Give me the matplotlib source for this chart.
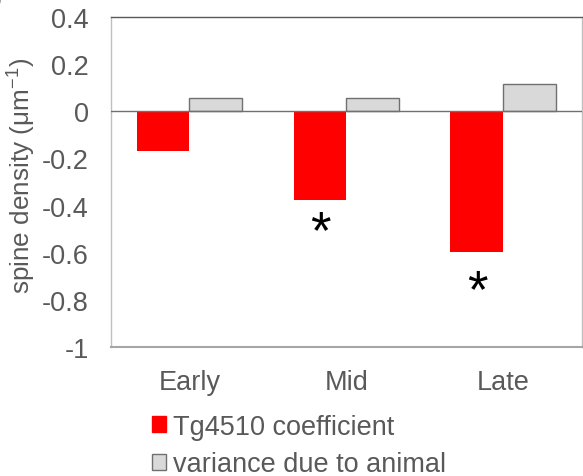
import numpy as np
import matplotlib
matplotlib.use('Agg')
import matplotlib.pyplot as plt
from matplotlib.patches import Patch

# Data.
stages = ['Early', 'Mid', 'Late']
tg4510_coef = [-0.168, -0.376, -0.596]
animal_variance = [0.055, 0.055, 0.115]
significant = [False, True, True]
star_y = [None, -0.516, -0.767]
y_ticks = [0.4, 0.2, 0, -0.2, -0.4, -0.6, -0.8, -1]
y_tick_labels = ['0.4', '0.2', '0', '-0.2', '-0.4', '-0.6', '-0.8', '-1']

plt.rcParams['font.family'] = ['Liberation Sans', 'DejaVu Sans']
plt.rcParams['mathtext.fontset'] = 'custom'
plt.rcParams['mathtext.rm'] = 'Liberation Sans'
plt.rcParams['mathtext.it'] = 'Liberation Sans:italic'
plt.rcParams['axes.unicode_minus'] = False

text_grey = '#595959'
red = '#ff0000'
light_grey = '#d9d9d9'
font_size = 19.5

fig = plt.figure(figsize=(5.83, 4.77), dpi=100)
ax = fig.add_axes([0.1904, 0.2704, 0.8076, 0.6919])

x = np.arange(len(stages))
width = 0.337
ax.bar(x - width / 2, tg4510_coef, width, color=red, zorder=2,
       label='Tg4510 coefficient')
ax.bar(x + width / 2, animal_variance, width, color=light_grey,
       edgecolor='#707070', linewidth=1.0, zorder=2,
       label='variance due to animal')
ax.axhline(0, color='#707070', linewidth=1.0, zorder=3)

# Significance stars below the red bars.
for xi, sig, sy in zip(x, significant, star_y):
    if sig:
        ax.text(xi - width / 2, sy, '*', fontsize=38, color='black',
                ha='center', va='center')

ax.set_xlim(-0.5, 2.5)
ax.set_ylim(-1, 0.4)
ax.set_yticks(y_ticks)
ax.set_yticklabels(y_tick_labels)
ax.set_xticks(x)
ax.set_xticklabels(stages)
ax.tick_params(axis='both', length=0, labelsize=font_size, colors=text_grey)
ax.tick_params(axis='y', pad=16)
ax.tick_params(axis='x', pad=16)

ax.set_ylabel(r'spine density ($\mathrm{\mu}$m$^{\mathrm{-1}}$)',
              fontsize=18.8, color=text_grey)
ax.yaxis.set_label_coords(-0.155, 0.521)

ax.spines['top'].set_color('#595959')
ax.spines['top'].set_linewidth(1.0)
for side in ['left', 'right']:
    ax.spines[side].set_color('#bfbfbf')
    ax.spines[side].set_linewidth(1.0)
ax.spines['bottom'].set_color('#a6a6a6')
ax.spines['bottom'].set_linewidth(1.5)

handles = [Patch(facecolor=red, edgecolor=red),
           Patch(facecolor=light_grey, edgecolor='#707070')]
fig.legend(handles, ['Tg4510 coefficient', 'variance due to animal'],
           loc='upper left', bbox_to_anchor=(0.261, 0.131),
           frameon=False, fontsize=font_size, handlelength=0.52,
           handleheight=0.52, handletextpad=0.26, labelspacing=0.44,
           borderaxespad=0, borderpad=0, labelcolor=text_grey)

# Clipped panel label in the corner.
fig.text(-0.03, 1.03, 'b', fontsize=22, fontweight='bold', ha='left',
         va='top')

fig.savefig('out.png', dpi=100)
